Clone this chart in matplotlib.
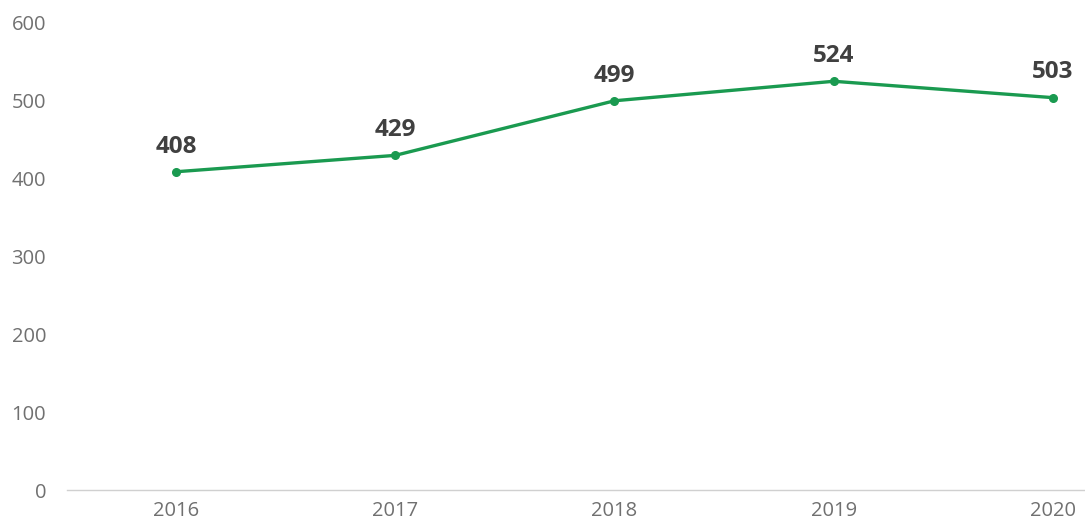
import matplotlib
matplotlib.use("Agg")
import matplotlib.pyplot as plt

years = ["2016", "2017", "2018", "2019", "2020"]
values = [408, 429, 499, 524, 503]
yticks = [0, 100, 200, 300, 400, 500, 600]

plt.rcParams['font.family'] = ['Open Sans', 'DejaVu Sans']

fig = plt.figure(figsize=(10.85, 5.22), dpi=100)
ax = fig.add_axes([67/1085, 32/522, 1 - 67/1085, (490-22)/522])

x = list(range(len(years)))
ax.plot(x, values, color='#1a9a50', linewidth=2.4, marker='o', markersize=5.5, solid_capstyle='round', clip_on=False)
for xi, v in zip(x, values):
    ax.annotate(str(v), (xi, v), xytext=(0, 9.5), textcoords='offset points',
                ha='center', va='bottom', fontsize=17.5, fontweight='bold', color='#404040')

ax.set_xlim(-0.497, 4.146)
ax.set_ylim(0, 600)
ax.set_xticks(x)
ax.set_xticklabels(years)
ax.set_yticks(yticks)
ax.set_yticklabels([str(t) for t in yticks])
ax.tick_params(axis='both', length=0, labelsize=14.5, colors='#707070')
ax.tick_params(axis='x', pad=8)
ax.tick_params(axis='y', pad=15)
for s in ['top', 'right', 'left']:
    ax.spines[s].set_visible(False)
ax.spines['bottom'].set_color('#d0d0d0')
ax.spines['bottom'].set_linewidth(1)

fig.savefig("out.png", dpi=100)
